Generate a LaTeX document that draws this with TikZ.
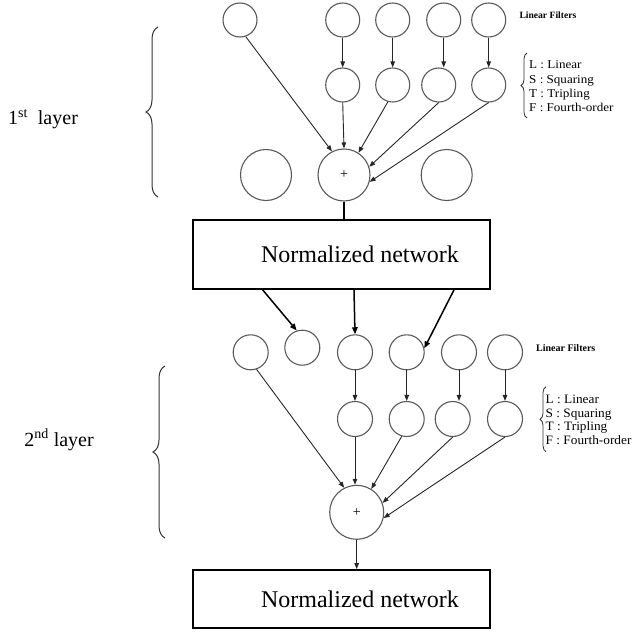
\documentclass[tikz,border=0pt]{standalone}
\usepackage{fontspec}
\setmainfont{Liberation Serif}
\newfontfamily\legendfont[FakeStretch=1.09]{Liberation Serif}
\newfontfamily\legendfontb[FakeStretch=1.04]{Liberation Serif}
\usetikzlibrary{arrows.meta,decorations.pathreplacing}
\begin{document}
\begin{tikzpicture}[x=1pt,y=-1pt,
  cir/.style={circle,draw=black!65,line width=1.1pt,minimum size=34pt,inner sep=0pt},
  bigcir/.style={cir,minimum size=51pt},
  sumcir/.style={cir,minimum size=52pt,font=\fontsize{14}{14}\selectfont},
  arr/.style={draw=black!85,line width=0.9pt,-{Triangle[length=6pt,width=4.5pt]}},
  thickarr/.style={draw=black,line width=1.5pt,-{Triangle[length=7pt,width=5.5pt]}},
  plainline/.style={draw=black,line width=1.6pt},
  netbox/.style={draw=black,line width=1.8pt,minimum width=297pt,inner sep=0pt,font=\fontsize{24}{24}\selectfont},
  bigbrace/.style={draw=black!80,line width=1pt,decorate,decoration={brace,amplitude=12pt}},
  smallbrace/.style={draw=black!80,line width=0.8pt,decorate,decoration={brace,amplitude=6pt}},
  layerlabel/.style={font=\fontsize{20}{20}\selectfont,inner sep=0pt},
  filterlabel/.style={font=\bfseries\fontsize{10}{10}\selectfont,inner sep=0pt,anchor=west},
  legend/.style={align=left,inner sep=0pt,anchor=west}
]
\useasboundingbox (0,0) rectangle (634,632);

% ---------- first layer ----------
\node[cir] (t1) at (240,20) {};
\node[cir] (t2) at (342.7,20) {};
\node[cir] (t3) at (392.7,20) {};
\node[cir] (t4) at (443.7,20) {};
\node[cir] (t5) at (488.7,20) {};
\node[cir] (m1) at (342.7,85) {};
\node[cir] (m2) at (392.7,85) {};
\node[cir] (m3) at (438.7,85) {};
\node[cir] (m4) at (488.7,85) {};
\node[bigcir] (b1) at (266,175) {};
\node[sumcir] (p1) at (344,175) {+};
\node[bigcir] (b3) at (446.7,175) {};

\draw[arr] (t2.south) -- (m1.north);
\draw[arr] (t3.south) -- (m2.north);
\draw[arr] (t4.south) -- (t4.south |- m3.north);
\draw[arr] (t5.south) -- (m4.north);
\draw[arr] (t1.-71) -- (p1.117);
\draw[arr] (m1.south) -- (p1.north);
\draw[arr] (m2.-106) -- (p1.57);
\draw[arr] (m3.south) -- (p1.18);
\draw[arr] (m4.south) -- (p1.-15);

\node[filterlabel,font=\bfseries\fontsize{9.6}{10}\selectfont] (lf1) at (519.3,15.7) {Linear Filters};
\node[legend,font=\legendfont\fontsize{12}{14.4}\selectfont] (lg1) at (529,86.5)
  {L : Linear\\S : Squaring\\T : Tripling\\F : Fourth-order};
\draw[smallbrace] (527,118) -- (527,53);

\draw[bigbrace] (158,197) -- (158,27);
\node[layerlabel] (l1) at (43,119) {1\textsuperscript{st}\ \ layer};

\node[netbox,minimum height=69pt] (box1) at (341.3,254.5) {\hspace*{37.4pt}Normalized network};
\draw[plainline] (p1.south) -- (p1.south |- box1.north);

% ---------- second layer ----------
\node[cir,minimum size=35pt] (c1) at (250.7,352.3) {};
\node[cir,minimum size=35pt] (c2) at (302.3,347.7) {};
\node[cir,minimum size=35pt] (c3) at (355,352.3) {};
\node[cir,minimum size=35pt] (c4) at (406.7,352.3) {};
\node[cir,minimum size=35pt] (c5) at (459,352.3) {};
\node[cir,minimum size=35pt] (c6) at (505,352.3) {};
\node[cir,minimum size=35pt] (n1) at (355,419) {};
\node[cir,minimum size=35pt] (n2) at (406.7,419) {};
\node[cir,minimum size=35pt] (n3) at (452.7,419) {};
\node[cir,minimum size=35pt] (n4) at (505,419) {};
\node[sumcir,minimum size=54pt] (p2) at (356.7,512.3) {+};

\draw[thickarr] ([xshift=-78.6pt]box1.south) -- (c2.108);
\draw[thickarr] ([xshift=12.7pt]box1.south) -- (c3.north);
\draw[thickarr] ([xshift=112.7pt]box1.south) -- (c4.13);

\draw[arr] (c3.south) -- (n1.north);
\draw[arr] (c4.south) -- (n2.north);
\draw[arr] (c5.south) -- (c5.south |- n3.north);
\draw[arr] (c6.south) -- (n4.north);
\draw[arr] (c1.-71) -- (p2.117);
\draw[arr] (n1.south) -- (n1.south |- p2.north);
\draw[arr] (n2.-106) -- (p2.58);
\draw[arr] (n3.south) -- (p2.20);
\draw[arr] (n4.south) -- (p2.-12);

\node[filterlabel] (lf2) at (536,348.3) {Linear Filters};
\node[legend,font=\legendfontb\fontsize{12.8}{13.6}\selectfont] (lg2) at (545.5,419.7)
  {L : Linear\\S : Squaring\\T : Tripling\\F : Fourth-order};
\draw[smallbrace] (546,451.7) -- (546,386.7);

\draw[bigbrace] (165,538) -- (165,366);
\node[layerlabel] (l2) at (59,440) {2\textsuperscript{nd} layer};

\node[netbox,minimum height=58pt] (box2) at (341.3,599) {\hspace*{37.4pt}Normalized network};
\draw[arr,line width=1pt] (p2.south) -- (p2.south |- box2.north);
\end{tikzpicture}
\end{document}
